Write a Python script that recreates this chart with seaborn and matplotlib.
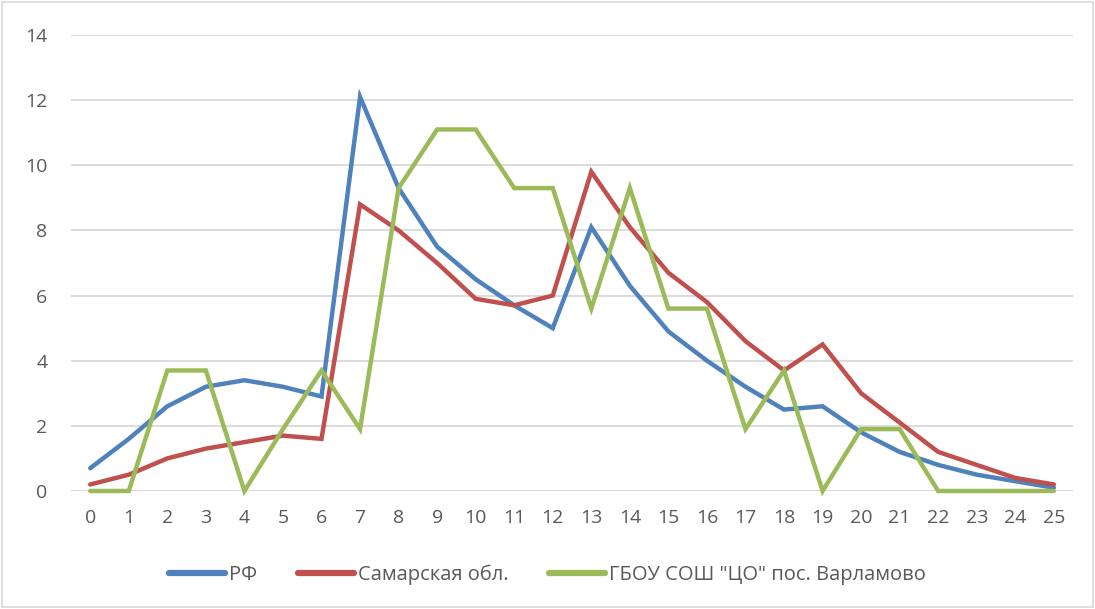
import matplotlib
matplotlib.use("Agg")
import matplotlib.pyplot as plt
import seaborn as sns
import pandas as pd
from matplotlib.patches import Rectangle

scores = list(range(26))
rf = [0.7, 1.6, 2.6, 3.2, 3.4, 3.2, 2.9, 12.1, 9.3, 7.5, 6.5, 5.7, 5.0, 8.1, 6.3, 4.9,
      4.0, 3.2, 2.5, 2.6, 1.8, 1.2, 0.8, 0.5, 0.3, 0.1]
samara = [0.2, 0.5, 1.0, 1.3, 1.5, 1.7, 1.6, 8.8, 8.0, 7.0, 5.9, 5.7, 6.0, 9.8, 8.1, 6.7,
          5.8, 4.6, 3.7, 4.5, 3.0, 2.1, 1.2, 0.8, 0.4, 0.2]
school = [0, 0, 3.7, 3.7, 0, 1.9, 3.7, 1.9, 9.3, 11.1, 11.1, 9.3, 9.3, 5.6, 9.3, 5.6,
          5.6, 1.9, 3.7, 0, 1.9, 1.9, 0, 0, 0, 0]
series_names = ["РФ", "Самарская обл.", 'ГБОУ СОШ "ЦО" пос. Варламово']
colors = ["#4F81BD", "#C0504D", "#9BBB59"]
y_ticks = [0, 2, 4, 6, 8, 10, 12, 14]

df = pd.concat([
    pd.DataFrame({"x": scores, "y": vals, "s": name})
    for name, vals in zip(series_names, [rf, samara, school])
])

sns.set_theme(style="white")
plt.rcParams["font.family"] = ["Open Sans", "DejaVu Sans"]

fig = plt.figure(figsize=(10.95, 6.09), dpi=100)
ax = fig.add_axes([0.0648, 0.1938, 0.9152, 0.7487])

sns.lineplot(data=df, x="x", y="y", hue="s", palette=colors, linewidth=3.2,
             ax=ax, legend=True, solid_joinstyle="miter")

ax.set_xlim(-0.5, 25.5)
ax.set_ylim(0, 14)
ax.set_xticks(scores)
ax.set_xticklabels([str(s) for s in scores])
ax.set_yticks(y_ticks)
ax.set_yticklabels([str(t) for t in y_ticks])
ax.tick_params(axis="both", length=0, labelsize=14, colors="#595959")
ax.tick_params(axis="x", pad=13)
ax.tick_params(axis="y", pad=17)
ax.set_xlabel("")
ax.set_ylabel("")
ax.grid(axis="y", color="#D9D9D9", linewidth=1.3)
ax.set_axisbelow(True)
for sp in ax.spines.values():
    sp.set_visible(False)
for ln in ax.get_lines():
    ln.set_clip_on(False)

handles, labels = ax.get_legend_handles_labels()
ax.legend(handles, labels, loc="center", bbox_to_anchor=(0.5, 0.056),
          bbox_transform=fig.transFigure, ncol=3, frameon=False, fontsize=14.5,
          handlelength=2.8, columnspacing=2.0, handletextpad=0.2,
          labelcolor="#595959")
for lh in ax.get_legend().get_lines():
    lh.set_linewidth(4.5)
    lh.set_solid_capstyle("round")

fig.patches.append(Rectangle((0.002, 0.003), 0.996, 0.994, transform=fig.transFigure,
                             fill=False, edgecolor="#D9D9D9", linewidth=1.2))

fig.savefig("out.png", dpi=100)
